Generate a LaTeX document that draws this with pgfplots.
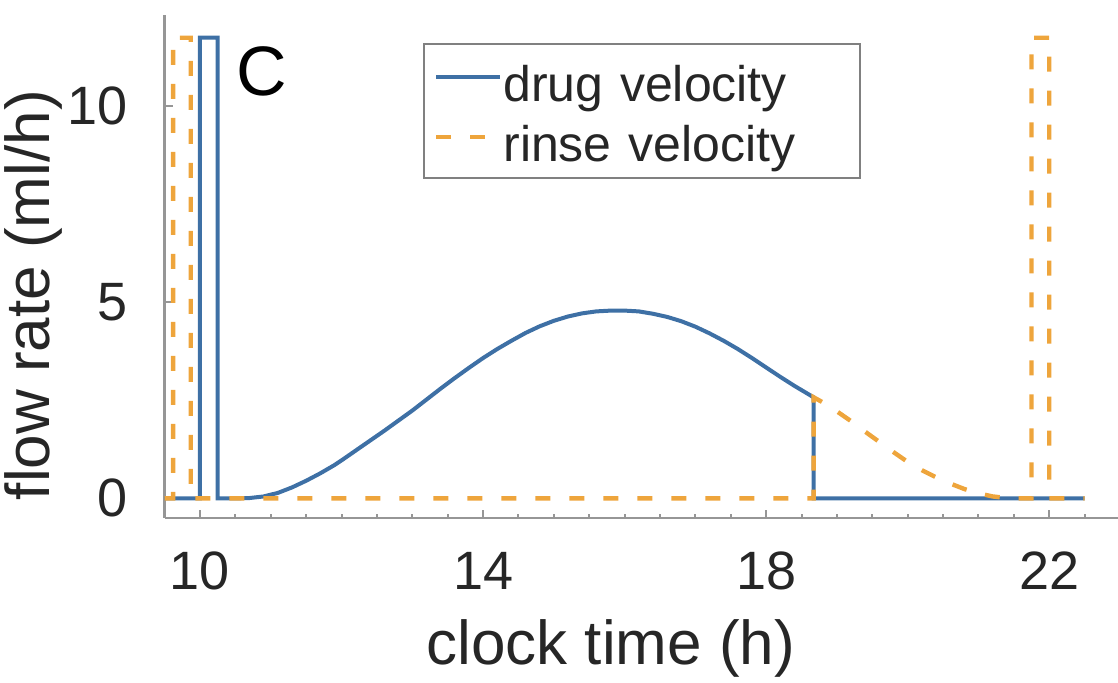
\documentclass[border=0pt]{standalone}
\usepackage{fontspec}
\setmainfont{Liberation Sans}
\usepackage{pgfplots}
\pgfplotsset{compat=1.18}
\definecolor{drugblue}{RGB}{62,112,165}
\definecolor{rinseorange}{RGB}{238,165,60}
\definecolor{axisgray}{RGB}{150,150,150}
\definecolor{txt}{RGB}{38,38,38}
\begin{document}
\begin{tikzpicture}
\begin{axis}[
  scale only axis, width=477.7pt, height=251.5pt,
  xmin=9.5, xmax=23, ymin=-0.5, ymax=12.33,
  axis lines=left, axis line style={-, axisgray, line width=1.2pt},
  tick align=inside, tick style={axisgray, line width=1pt},
  major tick length=4pt, minor tick length=2.2pt,
  xtick={10,14,18,22}, minor xtick={9.5,10,...,23},
  ytick={0,5,10},
  /pgf/number format/assume math mode=true,
  ticklabel style={font=\fontsize{27}{32}\selectfont, text=txt, inner sep=0pt},
  xticklabel shift=16.8pt, yticklabel shift=18.5pt,
  xlabel={clock time (h)},
  xlabel style={font=\fontsize{31}{37}\selectfont, text=txt, at={(axis description cs:0.467,-0.292)}, anchor=base},
  ylabel={flow rate (ml/h)},
  ylabel style={font=\fontsize{31}{37}\selectfont, text=txt, at={(axis description cs:-0.12,0.443)}, anchor=base},
  legend style={at={(axis description cs:0.2705,0.9443)}, anchor=north west,
    draw=gray, line width=1pt, inner xsep=5pt, inner ysep=3.5pt,
    font=\fontsize{25}{30}\selectfont, row sep=0pt, column sep=0pt,
    nodes={inner xsep=0.5pt, inner ysep=0pt, text height=25.2pt, text depth=4.8pt, text width=173pt, text=txt}},
  legend cell align=left,
  legend image code/.code={\draw[#1] (0pt,2pt) -- (32pt,2pt);},
]
\addplot[drugblue, line width=2pt, line join=miter] coordinates {
(9.5,0) (10,0) (10,11.75) (10.25,11.75) (10.25,0) (10.5,0)
(10.7,0.01) (10.9,0.05) (11.1,0.14) (11.3,0.28) (11.5,0.45) (11.7,0.64)
(11.9,0.85) (12.0,0.97) (12.2,1.22) (12.4,1.47) (12.6,1.72) (12.8,1.98) (13.0,2.24)
(13.2,2.52) (13.4,2.80) (13.6,3.07) (13.8,3.33) (14.0,3.58) (14.2,3.81)
(14.4,4.02) (14.6,4.22) (14.8,4.39) (15.0,4.53) (15.2,4.64) (15.4,4.72)
(15.6,4.77) (15.8,4.79) (16.0,4.79) (16.2,4.77) (16.4,4.71) (16.6,4.63)
(16.8,4.52) (17.0,4.38) (17.2,4.21) (17.4,4.02) (17.6,3.81) (17.8,3.58)
(18.0,3.34) (18.2,3.10) (18.4,2.87) (18.67,2.58) (18.67,0) (22.5,0)
};
\addlegendentry{drug velocity}
\addplot[rinseorange, line width=2.2pt, dash pattern=on 7.5pt off 9.5pt] coordinates {
(9.5,0) (9.62,0) (9.62,11.75) (9.87,11.75) (9.87,0) (18.67,0) (18.67,2.58)
(18.8,2.45) (19.0,2.22) (19.2,1.97) (19.4,1.70) (19.6,1.44) (19.8,1.18)
(20.0,0.93) (20.2,0.72) (20.4,0.54) (20.6,0.38) (20.8,0.24) (21.0,0.13)
(21.2,0.05) (21.4,0.01) (21.6,0) (21.75,0) (21.75,11.75) (22.0,11.75) (22.0,0) (22.5,0)
};
\addlegendentry{rinse velocity}
\node[font=\fontsize{35}{42}\selectfont, text=black] at (axis cs:10.88,10.88) {C};
\end{axis}
\pgfresetboundingbox
\path[use as bounding box] (-82.3pt,-82pt) rectangle (476.7pt,259pt);
\end{tikzpicture}
\end{document}
